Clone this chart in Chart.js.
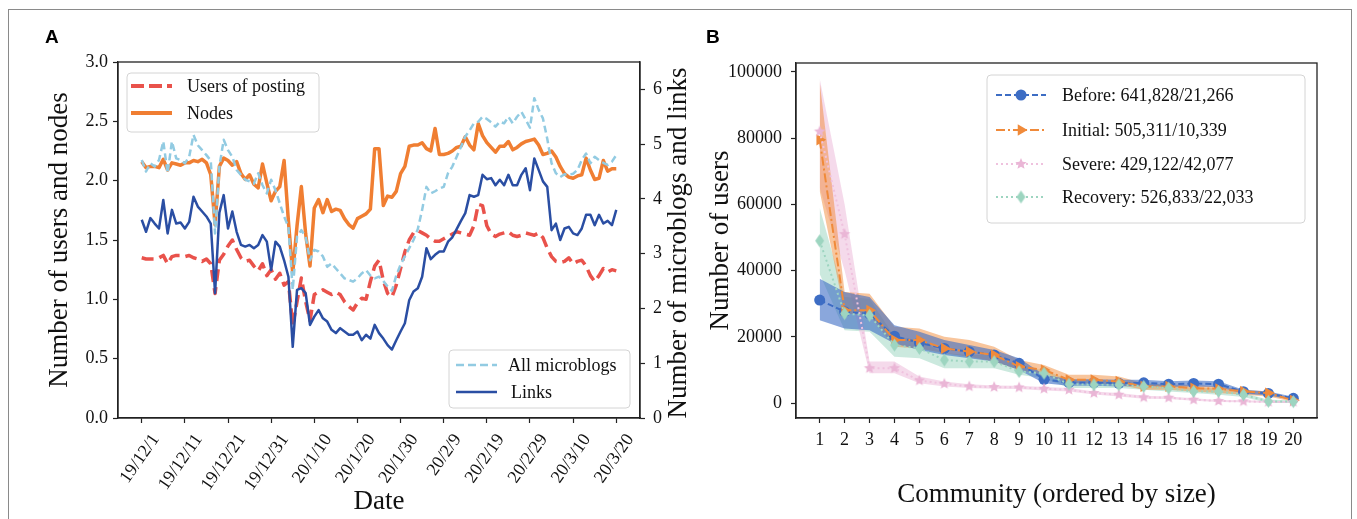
<!DOCTYPE html>
<html><head><meta charset="utf-8">
<script src="https://cdn.jsdelivr.net/npm/chart.js@4.4.0/dist/chart.umd.min.js"></script>
<style>
html,body{margin:0;padding:0;background:#fff;width:1357px;height:519px;overflow:hidden;}
#frame{position:absolute;left:8px;top:9px;width:1344px;height:520px;border:1.5px solid #8a8a8a;border-bottom:none;box-sizing:border-box;}
.panel{position:absolute;font-family:"Liberation Sans",Arial,sans-serif;font-weight:bold;font-size:19px;line-height:19px;color:#000;}
#ca{position:absolute;left:0;top:0;}
#cb{position:absolute;left:690px;top:0;}
</style></head><body>
<div id="frame"></div>
<canvas id="ca" width="700" height="519"></canvas>
<canvas id="cb" width="667" height="519"></canvas>
<div class="panel" style="left:45px;top:27px;">A</div>
<div class="panel" style="left:706px;top:27px;">B</div>
<script>
// ---------- Panel A data ----------
const dateTicks = ['19/12/1','19/12/11','19/12/21','19/12/31','20/1/10','20/1/20','20/1/30','20/2/9','20/2/19','20/2/29','20/3/10','20/3/20'];
const namesA = ['Users of posting','Nodes','All microblogs','Links'];
const usersPosting = [1.35,1.34,1.34,1.34,1.35,1.37,1.30,1.36,1.37,1.37, 1.36,1.37,1.35,1.34,1.32,1.34,1.30,1.05,1.33,1.38, 1.45,1.50,1.42,1.35,1.32,1.33,1.28,1.24,1.30,1.20, 1.25,1.17,1.22,1.12,1.15,0.78,0.98,1.18,0.98,0.82, 1.04,1.06,1.08,1.06,1.04,1.06,1.04,0.98,0.94,0.91, 0.97,1.01,1.00,1.15,1.28,1.33,1.16,1.05,1.02,1.12, 1.26,1.40,1.50,1.56,1.58,1.56,1.54,1.51,1.49,1.49, 1.51,1.53,1.55,1.57,1.56,1.55,1.54,1.62,1.80,1.79, 1.62,1.55,1.53,1.55,1.56,1.57,1.54,1.53,1.54,1.56, 1.55,1.54,1.56,1.52,1.43,1.36,1.32,1.31,1.32,1.35, 1.30,1.32,1.33,1.28,1.20,1.15,1.20,1.26,1.23,1.25, 1.24];
const nodes = [2.16,2.11,2.12,2.12,2.11,2.18,2.09,2.15,2.14,2.13, 2.15,2.15,2.17,2.16,2.18,2.15,2.05,1.63,2.12,2.19, 2.17,2.13,2.16,2.06,2.01,2.05,1.97,1.94,2.14,1.98, 1.83,1.91,1.95,2.17,1.66,1.22,1.62,1.95,1.55,1.28, 1.77,1.84,1.73,1.84,1.74,1.76,1.75,1.68,1.63,1.60, 1.68,1.70,1.72,1.76,2.27,2.27,1.79,1.87,1.86,1.91, 2.06,2.12,2.29,2.30,2.30,2.32,2.27,2.25,2.44,2.22, 2.22,2.23,2.25,2.28,2.29,2.37,2.30,2.26,2.48,2.38, 2.32,2.28,2.24,2.29,2.29,2.33,2.26,2.28,2.31,2.33, 2.34,2.35,2.30,2.22,2.23,2.25,2.20,2.12,2.06,2.03, 2.02,2.04,2.05,2.19,2.09,2.01,2.02,2.17,2.08,2.10, 2.10];
const microblogs = [4.71,4.50,4.65,4.59,4.71,5.05,4.47,5.05,4.74,4.71, 4.65,4.77,5.17,4.98,4.89,4.80,4.70,3.37,4.59,5.08, 4.89,4.77,4.53,4.44,4.35,4.32,4.28,4.47,4.25,4.10, 4.35,4.16,3.92,3.68,3.49,2.34,3.31,3.43,3.31,2.88, 3.07,3.04,2.95,2.76,2.82,2.73,2.64,2.55,2.52,2.49, 2.55,2.64,2.70,2.60,2.55,2.58,2.50,2.40,2.32,2.60, 2.80,2.95,3.10,3.25,3.45,3.80,4.22,4.10,4.14,4.19, 4.22,4.47,4.59,4.77,4.95,5.14,5.25,5.38,5.41,5.50, 5.46,5.40,5.32,5.41,5.38,5.50,5.38,5.50,5.59,5.45, 5.30,5.84,5.63,5.47,5.10,4.65,4.47,4.40,4.45,4.44, 4.46,4.53,4.71,4.83,4.65,4.77,4.71,4.66,4.62,4.68, 4.80];
const links = [3.62,3.40,3.65,3.55,3.46,3.98,3.37,3.80,3.55,3.57, 3.46,3.58,4.04,3.86,3.77,3.68,3.55,2.28,3.75,4.07, 3.46,3.77,3.40,3.16,3.13,3.16,3.10,3.16,3.34,3.22, 2.70,3.22,3.13,2.88,2.58,1.30,2.34,2.37,2.28,1.70, 1.85,1.97,1.82,1.76,1.61,1.55,1.64,1.58,1.52,1.52, 1.58,1.42,1.52,1.45,1.70,1.55,1.45,1.33,1.25,1.42, 1.58,1.73,2.15,2.31,2.37,2.58,3.10,2.90,2.98,3.04, 3.04,3.22,3.30,3.45,3.60,3.74,4.07,4.04,4.07,4.44, 4.36,4.38,4.25,4.35,4.25,4.44,4.25,4.25,4.44,4.56, 4.16,4.74,4.53,4.32,4.22,3.43,3.55,3.25,3.46,3.49, 3.37,3.34,3.46,3.71,3.71,3.52,3.71,3.55,3.60,3.52, 3.80];
const leftTicks = [0,0.5,1,1.5,2,2.5,3];
const rightTicks = [0,1,2,3,4,5,6];

// ---------- Panel B data ----------
const communities = [1,2,3,4,5,6,7,8,9,10,11,12,13,14,15,16,17,18,19,20];
const userTicks = [0,20000,40000,60000,80000,100000];
const namesB = ['Before: 641,828/21,266','Initial: 505,311/10,339','Severe: 429,122/42,077','Recovery: 526,833/22,033'];
const beforeMean = [31100,27600,26900,20200,18200,16500,15500,14500,12000,7150,6150,6150,5950,6100,5700,5900,5700,3400,2900,1400];
const beforeLow  = [25000,22500,22000,18000,16000,14500,13500,12500,10000,6000,5200,5200,5000,5200,4900,5000,4800,2800,2300,900];
const beforeHigh = [37500,33500,32000,23500,21500,19000,17500,16000,13500,8500,7200,7200,7000,7000,6600,6800,6600,4000,3500,1900];
const initialMean = [79500,28000,28000,19000,19000,16500,15500,14500,11000,10000,7000,7000,6500,5000,5000,4500,4300,3500,3000,800];
const initialLow  = [64000,27000,26500,17000,16500,15000,14000,12500,10000,8500,6000,6000,5500,4000,4000,3500,3000,2500,2000,400];
const initialHigh = [97000,33500,33000,23000,22500,20000,19000,17000,13000,11500,8500,8500,8000,6000,5500,5500,5000,4000,3500,1200];
const severeMean = [82000,51000,10500,10500,6800,5800,5000,4800,4700,4300,4000,3000,2500,1700,1600,1000,600,500,300,300];
const severeLow  = [65000,40000,9000,9000,6000,5000,4500,4300,4200,3800,3500,2600,2000,1300,1200,700,300,200,0,0];
const severeHigh = [98000,60000,12500,12500,8000,6500,5700,5300,5200,4800,4500,3500,3000,2200,2000,1400,900,800,600,600];
const recoveryMean = [49000,27000,26500,17500,16500,13000,12500,12500,9500,9000,5700,5500,5500,5000,4500,3500,3500,2500,500,400];
const recoveryLow  = [39000,22000,21500,14000,13500,10500,10500,10500,8500,7500,4500,4500,4500,4000,3500,3000,2500,1800,0,0];
const recoveryHigh = [59000,32000,31500,20000,19000,15000,14500,14500,11000,10000,7000,7000,6500,6000,5500,4500,4500,3000,1000,800];

// ---------- helpers ----------
const serif = "'Liberation Serif','Times New Roman',serif";
const tickFont = {family: serif, size: 18};
const titleFont = {family: serif, size: 27};
const ink = '#111';
const daily = arr => arr.map((v,i)=>({x:i, y:v}));
const byComm = arr => arr.map((v,i)=>({x:communities[i], y:v}));

function roundRect(ctx,x,y,w,h,r){ctx.beginPath();ctx.moveTo(x+r,y);ctx.arcTo(x+w,y,x+w,y+h,r);ctx.arcTo(x+w,y+h,x,y+h,r);ctx.arcTo(x,y+h,x,y,r);ctx.arcTo(x,y,x+w,y,r);ctx.closePath();}
function drawLegend(ctx, ox, box, items){
  ctx.save(); ctx.translate(-ox,0);
  roundRect(ctx, box.x, box.y, box.w, box.h, 4);
  ctx.fillStyle='rgba(255,255,255,0.85)'; ctx.fill();
  ctx.strokeStyle='#d4d4d4'; ctx.lineWidth=1; ctx.stroke();
  items.forEach(it=>{
    ctx.beginPath(); ctx.setLineDash(it.dash||[]); ctx.strokeStyle=it.color; ctx.lineWidth=it.width;
    ctx.moveTo(it.x1,it.y); ctx.lineTo(it.x2,it.y); ctx.stroke(); ctx.setLineDash([]);
    if(it.point){ ctx.fillStyle=it.pcolor||it.color; ctx.strokeStyle=it.pcolor||it.color; Chart.helpers.drawPoint(ctx, it.point, (it.x1+it.x2)/2, it.y); }
    ctx.fillStyle=ink; ctx.font='18px '+serif; ctx.textBaseline='middle'; ctx.textAlign='left';
    ctx.fillText(it.label, it.tx, it.y+1);
  });
  ctx.restore();
}
function frameBox(chart){
  const {ctx, chartArea:a} = chart;
  ctx.save(); ctx.strokeStyle='#222'; ctx.lineWidth=1.3;
  ctx.strokeRect(a.left, a.top, a.right-a.left, a.bottom-a.top); ctx.restore();
}
function makeStar(color, r){
  const s=Math.ceil(r*2+2), c=document.createElement('canvas'); c.width=c.height=s;
  const g=c.getContext('2d'); g.fillStyle=color; g.beginPath();
  for(let i=0;i<10;i++){const a=-Math.PI/2+i*Math.PI/5, rr=i%2?r*0.45:r; g.lineTo(s/2+rr*Math.cos(a), s/2+rr*Math.sin(a));}
  g.closePath(); g.fill(); return c;
}
function makeDiamond(color, w, h){
  const c=document.createElement('canvas'); c.width=Math.ceil(w)+2; c.height=Math.ceil(h)+2;
  const g=c.getContext('2d'); const cx=c.width/2, cy=c.height/2; g.fillStyle=color; g.beginPath();
  g.moveTo(cx,cy-h/2); g.lineTo(cx+w/2,cy); g.lineTo(cx,cy+h/2); g.lineTo(cx-w/2,cy); g.closePath(); g.fill(); return c;
}
const axisGrid = {display:true, drawOnChartArea:false, drawTicks:true, tickLength:5, tickColor:'#222', tickWidth:1.2};
const axisBorder = {display:true, color:'#222', width:1.3};

// ---------- Panel A ----------
const colA = ['#e9524b','#f07e32','#92cbe2','#2a4ea3'];
new Chart(document.getElementById('ca'), {
  type:'line',
  data:{datasets:[
    {label:namesA[0], data:daily(usersPosting), yAxisID:'y', borderColor:colA[0], borderWidth:3.5, borderDash:[12,6], order:4},
    {label:namesA[1], data:daily(nodes), yAxisID:'y', borderColor:colA[1], borderWidth:3.5, order:3},
    {label:namesA[2], data:daily(microblogs), yAxisID:'y1', borderColor:colA[2], borderWidth:2.5, borderDash:[7,4], order:2},
    {label:namesA[3], data:daily(links), yAxisID:'y1', borderColor:colA[3], borderWidth:2.5, order:1}
  ]},
  options:{
    responsive:false, animation:false, events:[],
    layout:{padding:{top:62,left:0,right:0,bottom:0}},
    elements:{point:{radius:0}, line:{tension:0, fill:false, borderCapStyle:'butt', borderJoinStyle:'round'}},
    plugins:{legend:{display:false}, tooltip:{enabled:false}},
    scales:{
      x:{type:'linear', min:-5.5, max:115.5,
        afterBuildTicks:s=>{s.ticks=dateTicks.map((_,k)=>({value:k*10}));},
        afterFit:s=>{s.height=101;},
        ticks:{callback:(v,i)=>dateTicks[i], minRotation:55, maxRotation:55, autoSkip:false, font:tickFont, color:ink, padding:7, labelOffset:14},
        grid:axisGrid, border:axisBorder,
        title:{display:true, text:'Date', font:titleFont, color:ink, padding:{top:0,bottom:1}}},
      y:{position:'left', min:0, max:3,
        afterBuildTicks:s=>{s.ticks=leftTicks.map(v=>({value:v}));},
        afterFit:s=>{s.width=118;},
        ticks:{callback:v=>v.toFixed(1), font:tickFont, color:ink, padding:5},
        grid:axisGrid, border:axisBorder,
        title:{display:true, text:'Number of users and nodes', font:titleFont, color:ink, padding:{top:44,bottom:0}}},
      y1:{position:'right', min:0, max:6.5,
        afterBuildTicks:s=>{s.ticks=rightTicks.map(v=>({value:v}));},
        afterFit:s=>{s.width=60;},
        ticks:{callback:v=>String(v), font:tickFont, color:ink, padding:8},
        grid:axisGrid, border:axisBorder}
    }
  },
  plugins:[{id:'extrasA', afterDraw(chart){
    frameBox(chart);
    const ctx=chart.ctx;
    ctx.save(); ctx.translate(679,243); ctx.rotate(-Math.PI/2);
    ctx.font='27px '+serif; ctx.fillStyle=ink; ctx.textAlign='center'; ctx.textBaseline='middle';
    ctx.fillText('Number of microblogs and links',0,0); ctx.restore();
    drawLegend(ctx,0,{x:127,y:73,w:192,h:59},[
      {label:namesA[0], color:colA[0], width:4, dash:[13,5], x1:131, x2:172, y:86, tx:187},
      {label:namesA[1], color:colA[1], width:4, x1:131, x2:172, y:113, tx:187}]);
    drawLegend(ctx,0,{x:449,y:350,w:181,h:58},[
      {label:namesA[2], color:colA[2], width:2.5, dash:[8,4], x1:456, x2:497, y:365, tx:508},
      {label:namesA[3], color:colA[3], width:2.5, x1:456, x2:497, y:392, tx:511}]);
  }}]
});

// ---------- Panel B ----------
const colB = ['#3d6dc4','#f08a3a','#efc2de','#9dd5c0'];
const bandB = ['rgba(60,108,196,0.6)','rgba(242,140,58,0.5)','rgba(236,188,218,0.55)','rgba(140,206,182,0.45)'];
const starImg = makeStar('#eab6d6',6);
const diaImg = makeDiamond('#9dd5c0',9,13);
const band = (hi,lo,c)=>[
  {data:byComm(hi), borderWidth:0, pointRadius:0, backgroundColor:c, fill:'+1', order:10},
  {data:byComm(lo), borderWidth:0, pointRadius:0, backgroundColor:c, fill:false, order:10}];
const ptB = [
  {pointStyle:'circle', radius:5.5, rotation:0, borderWidth:0},
  {pointStyle:'triangle', radius:6.5, rotation:90, borderWidth:0},
  {pointStyle:starImg, radius:6, rotation:0, borderWidth:0},
  {pointStyle:diaImg, radius:6, rotation:0, borderWidth:0}];
const dashB = [[6,3],[9,3,2,3],[2,3],[2,3]];
const meanDs = (arr,k,order)=>({label:namesB[k], data:byComm(arr), borderColor:colB[k], backgroundColor:colB[k], borderWidth:2, borderDash:dashB[k], fill:false,
  pointStyle:ptB[k].pointStyle, pointRadius:ptB[k].radius, pointRotation:ptB[k].rotation, pointBorderWidth:0, pointBackgroundColor:colB[k], order});
new Chart(document.getElementById('cb'), {
  type:'line',
  data:{datasets:[
    ...band(beforeHigh,beforeLow,bandB[0]),
    ...band(initialHigh,initialLow,bandB[1]),
    ...band(severeHigh,severeLow,bandB[2]),
    ...band(recoveryHigh,recoveryLow,bandB[3]),
    meanDs(beforeMean,0,4), meanDs(initialMean,1,3), meanDs(severeMean,2,2), meanDs(recoveryMean,3,1)
  ]},
  options:{
    responsive:false, animation:false, events:[],
    layout:{padding:{top:63,left:0,right:40,bottom:0}},
    elements:{line:{tension:0}},
    plugins:{legend:{display:false}, tooltip:{enabled:false}},
    scales:{
      x:{type:'linear', min:0.05, max:20.95,
        afterBuildTicks:s=>{s.ticks=communities.map(v=>({value:v}));},
        afterFit:s=>{s.height=101;},
        ticks:{callback:v=>String(v), autoSkip:false, maxRotation:0, font:tickFont, color:ink, padding:6},
        grid:axisGrid, border:axisBorder,
        title:{display:true, text:'Community (ordered by size)', font:titleFont, color:ink, padding:{top:0,bottom:8}}},
      y:{min:-4530, max:102700,
        afterBuildTicks:s=>{s.ticks=userTicks.map(v=>({value:v}));},
        afterFit:s=>{s.width=106;},
        ticks:{callback:v=>String(v), font:tickFont, color:ink, padding:9},
        grid:axisGrid, border:axisBorder,
        title:{display:true, text:'Number of users', font:titleFont, color:ink, padding:{top:15,bottom:0}}}
    }
  },
  plugins:[{id:'extrasB', afterDraw(chart){
    frameBox(chart);
    const ys=[95,130,164,197];
    drawLegend(chart.ctx,690,{x:987,y:75,w:318,h:148}, namesB.map((n,k)=>({
      label:n, color:colB[k], width:2, dash:dashB[k], x1:996, x2:1046, y:ys[k], tx:1062,
      point:{pointStyle:ptB[k].pointStyle, radius:ptB[k].radius, rotation:ptB[k].rotation, borderWidth:0}})));
  }}]
});
</script>
</body></html>
